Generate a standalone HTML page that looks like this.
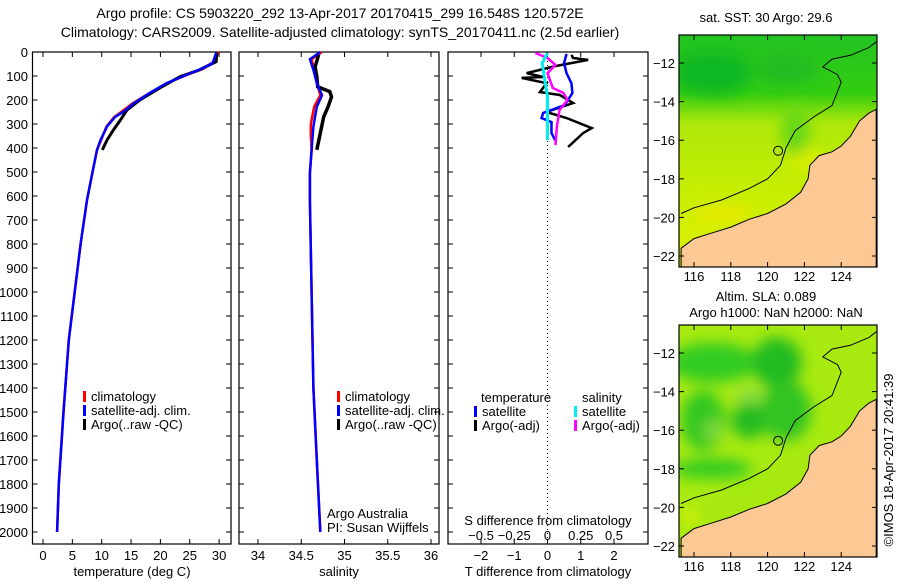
<!DOCTYPE html>
<html><head><meta charset="utf-8"><style>
body{margin:0;background:#fff}
svg text{font-family:"Liberation Sans",sans-serif;font-size:13px;fill:#000}
</style></head><body>
<svg id="c" width="900" height="580" viewBox="0 0 900 580" xmlns="http://www.w3.org/2000/svg">
<defs>
<linearGradient id="sst" x1="0" y1="0" x2="0" y2="1">
<stop offset="0" stop-color="#22c422"/><stop offset="0.25" stop-color="#33cc11"/><stop offset="0.38" stop-color="#aee80a"/><stop offset="0.7" stop-color="#c8ee00"/><stop offset="1" stop-color="#e0f000"/></linearGradient>
<filter id="blur" x="-50%" y="-50%" width="200%" height="200%"><feGaussianBlur stdDeviation="7"/></filter>
<clipPath id="m1c"><rect x="679" y="35" width="198" height="232"/></clipPath>
<clipPath id="m2c"><rect x="679" y="325" width="198" height="232"/></clipPath>
</defs>
<text x="340" y="18" text-anchor="middle" style="font-size:14px">Argo profile: CS 5903220_292 13-Apr-2017 20170415_299 16.548S 120.572E</text>
<text x="340" y="37" text-anchor="middle" style="font-size:14px">Climatology: CARS2009. Satellite-adjusted climatology: synTS_20170411.nc (2.5d earlier)</text>
<g id="g"></g>
<text transform="translate(893,460) rotate(-90)" text-anchor="middle">©IMOS 18-Apr-2017 20:41:39</text>
</svg>
<script>
// ---- data ----
const tClimDepth = [0,40,70,96,130,170,215,250,272,311,367,408,505,617,800,1000,1200,1500,1800,2000];
const tClimVals  = [29.9,29.1,27.3,24.5,21.1,18.2,15.2,13.3,12.1,10.8,9.9,9.2,8.4,7.5,6.4,5.4,4.4,3.5,2.7,2.4];
const tSatDepth  = [3,47,68,96,130,171,215,249,270,311,367,408,505,617,800,1000,1200,1500,1800,2000];
const tSatVals   = [29.5,28.9,27.2,24.4,21.0,18.2,15.4,13.7,12.3,10.9,9.8,9.2,8.4,7.5,6.4,5.4,4.4,3.5,2.7,2.4];
const tArgoDepth = [3,40,75,103,150,200,242,283,325,367,408];
const tArgoVals  = [29.6,29.5,26.6,23.3,19.9,16.5,14.3,13.2,12.0,10.9,10.1];
const sClimDepth = [0,30,75,130,180,228,300,350,408,505,617,1000,1400,1700,2000];
const sClimVals  = [34.74,34.62,34.65,34.68,34.72,34.65,34.61,34.61,34.62,34.60,34.60,34.62,34.64,34.68,34.72];
const sSatDepth  = [0,30,75,130,180,228,310,408,505,617,1000,1400,1700,2000];
const sSatVals   = [34.72,34.60,34.64,34.68,34.74,34.68,34.64,34.62,34.60,34.60,34.62,34.64,34.68,34.72];
const sArgoDepth = [12,62,103,145,165,187,228,270,338,408];
const sArgoVals  = [34.70,34.66,34.68,34.69,34.83,34.85,34.81,34.76,34.72,34.68];
const dTSatDepth = [8,46,88,130,171,221,254,275,292,338,367];
const dTSatVals  = [0.57,0.5,0.57,0.72,0.75,0.52,-0.13,-0.18,0.12,0.12,0.23];
const dTArgoDepth= [12,25,33,60,88,104,108,130,167,179,213,250,275,317,338,396];
const dTArgoVals = [0.72,0.77,1.22,0.2,-0.63,-0.13,-0.78,-0.03,-0.23,0.37,0.77,-0.03,0.57,1.33,1.07,0.62];
const dSSatDepth = [4,46,117,187,300,367];
const dSSatVals  = [0,-0.04,-0.02,0,0,0];
const dSArgoDepth= [4,25,54,88,150,171,200,242,313,388];
const dSArgoVals = [-0.09,0,0.06,0,0.04,0.12,0.15,0.09,0.07,0.06];
const depthTicks = [0,100,200,300,400,500,600,700,800,900,1000,1100,1200,1300,1400,1500,1600,1700,1800,1900,2000];
const tTicks = [0,5,10,15,20,25,30];
const sTicks = [34,34.5,35,35.5,36];
const sTickLabels = ["34","34.5","35","35.5","36"];
const dTTicks = [-2,-1,0,1,2];
const dSTicks = [-0.5,-0.25,0,0.25,0.5];
const dSTickLabels = ["\u22120.5","\u22120.25","0","0.25","0.5"];
const lonTicks = [116,118,120,122,124];
const latTicks = [-12,-14,-16,-18,-20,-22];
const landLon = [115.3,116,117,118,119,120,121,121.8,122.2,122.3,122.8,123.5,124,124.5,125,125.5,125.9,125.9,115.3];
const landLat = [-21.6,-21.1,-20.8,-20.5,-20.1,-19.8,-19.3,-18.7,-18,-17.3,-16.8,-16.6,-16.3,-15.8,-15,-14.6,-14.4,-22.7,-22.7];
const isoLon = [115.3,116,117.5,119,120,120.7,121,121.5,122.5,123.5,124,123.8,123,123.5,124.5,125.5,125.9];
const isoLat = [-19.8,-19.5,-19.1,-18.5,-18,-17.3,-16.4,-15.5,-14.8,-14.2,-13,-12.6,-12.2,-11.8,-11.6,-11.2,-10.9];
const argoLon = 120.572, argoLat = -16.548;

// ---- helpers ----
const svg=document.getElementById('g'), NS='http://www.w3.org/2000/svg';
function el(t,a,p){const e=document.createElementNS(NS,t);for(const k in a)e.setAttribute(k,a[k]);(p||svg).appendChild(e);return e;}
function txt(x,y,s,anchor){const e=el('text',{x:x,y:y,'text-anchor':anchor||'middle'});e.textContent=s;return e;}
const yD=d=>52+d*0.24;
const xT=v=>43+v*5.87;
const xS=v=>258+(v-34)*86.5;
const xdT=v=>547.5+v*33.25;
const xdS=v=>547.5+v*133;
function line(xs,ds,fx,col,w,name){
  const pts=xs.map((v,i)=>fx(v).toFixed(1)+','+yD(ds[i]).toFixed(1)).join(' ');
  const e=el('polyline',{points:pts,fill:'none',stroke:col,'stroke-width':w});
  
  
}
function panel(x0,x1,name){
  const r=el('rect',{x:x0,y:52,width:x1-x0,height:492,fill:'none',stroke:'#000','stroke-width':1.2});
  
  
}
function xticks(vals,labels,fx,ylab){
  vals.forEach((v,i)=>{const x=fx(v);
    el('line',{x1:x,x2:x,y1:544,y2:539,stroke:'#000'});el('line',{x1:x,x2:x,y1:52,y2:57,stroke:'#000'});
    const t=txt(x,ylab,labels[i]);
    
    });
}
function legend(x,y,items){
  items.forEach((it,i)=>{el('rect',{x:x,y:y+i*14-10,width:3,height:11,fill:it[1]});
    const t=txt(x+8,y+i*14,it[0],'start');
    
    });
}

// panel 1
panel(32.5,231,'temperature-panel');
depthTicks.forEach(d=>{const y=yD(d);el('line',{x1:32.5,x2:37.5,y1:y,y2:y,stroke:'#000'});el('line',{x1:231,x2:226,y1:y,y2:y,stroke:'#000'});
  const t=txt(28,y+5,String(d),'end');
  
  });
xticks(tTicks,tTicks.map(String),xT,560);
const tl=txt(132,576,'temperature (deg C)');


line(tClimVals,tClimDepth,xT,'#f00',2.5,'temp-climatology-line');
line(tArgoVals,tArgoDepth,xT,'#000',3,'temp-argo-line');
line(tSatVals,tSatDepth,xT,'#00f',2.5,'temp-satellite-line');
legend(83,401,[['climatology','#f00'],['satellite-adj. clim.','#00f'],['Argo(..raw -QC)','#000']]);

// panel 2
panel(239,439,'salinity-panel');
depthTicks.forEach(d=>{const y=yD(d);el('line',{x1:239,x2:244,y1:y,y2:y,stroke:'#000'});el('line',{x1:439,x2:434,y1:y,y2:y,stroke:'#000'});});
xticks(sTicks,sTickLabels,xS,560);
const sl=txt(339,576,'salinity');


line(sClimVals,sClimDepth,xS,'#f00',2.5,'sal-climatology-line');
line(sArgoVals,sArgoDepth,xS,'#000',3.5,'sal-argo-line');
line(sSatVals,sSatDepth,xS,'#00f',2.5,'sal-satellite-line');
legend(337,401,[['climatology','#f00'],['satellite-adj. clim.','#00f'],['Argo(..raw -QC)','#000']]);
txt(327,518,'Argo Australia','start');
txt(327,532,'PI: Susan Wijffels','start');

// panel 3
panel(448,648,'difference-panel');
depthTicks.forEach(d=>{const y=yD(d);el('line',{x1:448,x2:453,y1:y,y2:y,stroke:'#000'});el('line',{x1:648,x2:643,y1:y,y2:y,stroke:'#000'});});
xticks(dTTicks,dTTicks.map(v=>v<0?'\u2212'+(-v):String(v)),xdT,560);
dSTicks.forEach((v,i)=>{const t=txt(xdS(v),540,dSTickLabels[i]);
  
  });
txt(548,525,'S difference from climatology');
const dl=txt(548,576,'T difference from climatology');


el('line',{x1:547.5,x2:547.5,y1:53,y2:543,stroke:'#000','stroke-dasharray':'1,3'});
line(dTArgoVals,dTArgoDepth,xdT,'#000',2.5,'tdiff-argo-line');
line(dTSatVals,dTSatDepth,xdT,'#00f',2.5,'tdiff-satellite-line');
line(dSArgoVals,dSArgoDepth,xdS,'#f0f',2.5,'sdiff-argo-line');
line(dSSatVals,dSSatDepth,xdS,'#0ee',3,'sdiff-satellite-line');
txt(481,402,'temperature','start');
legend(474,416,[['satellite','#00f'],['Argo(-adj)','#000']]);
txt(582,402,'salinity','start');
legend(574,416,[['satellite','#0ee'],['Argo(-adj)','#f0f']]);

// maps
function map(y0,clip,fillBase,name,blobs){
  const xL=v=>694+(v-116)*18.4, yL=v=>y0+28+(-12-v)*19.3;
  const g=el('g',{'clip-path':'url(#'+clip+')'});
  
  
  el('rect',{x:679,y:y0,width:198,height:232,fill:fillBase},g);
  const bg=el('g',{filter:'url(#blur)'},g);
  blobs.forEach(b=>el('ellipse',{cx:xL(b[0]),cy:yL(b[1]),rx:b[2],ry:b[3],fill:b[4]},bg));
  el('polygon',{points:landLon.map((v,i)=>xL(v).toFixed(1)+','+yL(landLat[i]).toFixed(1)).join(' '),fill:'#fcc994',stroke:'#000','stroke-width':1},g);
  el('polyline',{points:isoLon.map((v,i)=>xL(v).toFixed(1)+','+yL(isoLat[i]).toFixed(1)).join(' '),fill:'none',stroke:'#000','stroke-width':1},g);
  const c=el('circle',{cx:xL(argoLon),cy:yL(argoLat),r:4.5,fill:'none',stroke:'#000'},g);
  
  
  el('rect',{x:679,y:y0,width:198,height:232,fill:'none',stroke:'#000','stroke-width':1.2});
  lonTicks.forEach(v=>{const x=xL(v);el('line',{x1:x,x2:x,y1:y0+232,y2:y0+227,stroke:'#000'});el('line',{x1:x,x2:x,y1:y0,y2:y0+5,stroke:'#000'});
    const t=txt(x,y0+246,String(v));
    
    });
  latTicks.forEach(v=>{const y=yL(v);el('line',{x1:679,x2:684,y1:y,y2:y,stroke:'#000'});el('line',{x1:877,x2:872,y1:y,y2:y,stroke:'#000'});
    const t=txt(675,y+5,'\u2212'+(-v),'end');
    
    });
}
map(35,'m1c','url(#sst)','sst-map',[[117,-12.5,40,22,'#11b822'],[121,-12.3,30,16,'#22bb22'],[117.5,-19.8,30,8,'#e8e800'],[122,-17,18,10,'#ddee00'],[121.5,-15.5,14,25,'#66d818']]);
map(325,'m2c','#a8ea10','sla-map',[[117,-12.5,45,20,'#33cc22'],[120.5,-12.5,25,25,'#22bb22'],[116.5,-15.5,22,30,'#33c822'],[119,-15.5,18,18,'#22bb22'],[117,-16,8,10,'#88dd44'],[119,-14.2,14,8,'#88dd44'],[117,-18,40,10,'#33cc22'],[121,-15,25,30,'#33c422'],[115.8,-20.5,6,10,'#ddf000']]);
const m1t=txt(766,22,'sat. SST: 30 Argo: 29.6');
const m2a=txt(766,301,'Altim. SLA: 0.089');
const m2b=txt(776,317,'Argo h1000: NaN h2000: NaN');
</script>
</body></html>
